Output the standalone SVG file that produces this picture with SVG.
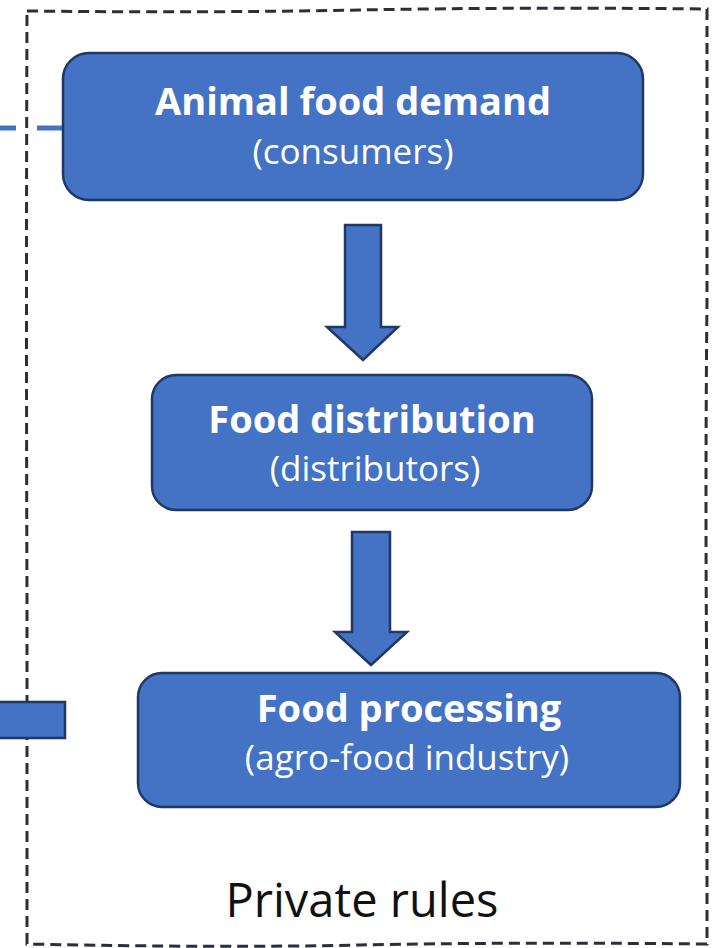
<svg xmlns="http://www.w3.org/2000/svg" width="714" height="948" viewBox="0 0 714 948">
<defs>
<style>
.box{fill:#4472C4;stroke:#1F3864;stroke-width:2.5}
.arrow{fill:#4472C4;stroke:#1F3864;stroke-width:2.5;stroke-linejoin:miter}
.title{font-family:"Open Sans","Noto Sans",sans-serif;font-weight:bold;font-size:38px;fill:#ffffff;text-anchor:middle}
.sub{font-family:"Open Sans","Noto Sans",sans-serif;font-size:35px;fill:#ffffff;text-anchor:middle}
.frame{fill:none;stroke:#2B2F3A;stroke-width:3;stroke-dasharray:11 6}
.label{font-family:"Open Sans","Noto Sans",sans-serif;font-size:47px;fill:#111111;text-anchor:middle}
</style>
</defs>
<rect width="714" height="948" fill="#ffffff"/>
<g id="private-rules-frame">
<path class="frame" d="M27 11 Q200 13 360 10 T707 9 L707 300 Q705 500 707 700 L707 944 Q500 942 360 945 T27 944 L27 600 Q26 300 27 11 Z"/>
<text class="label" x="362" y="917">Private rules</text>
</g>
<g id="connectors">
<path d="M0 128 L16 128 M37 128 L63 128" stroke="#4472C4" stroke-width="5" fill="none"/>
<rect x="-3" y="702" width="68" height="36" class="box"/>
<path class="arrow" d="M345 225 L381 225 L381 327 L398 327 L363 360 L327 327 L345 327 Z"/>
<path class="arrow" d="M352 532 L390 532 L390 632 L407 632 L371 665 L335 632 L352 632 Z"/>
</g>
<g id="node-demand">
<rect class="box" x="63" y="53" width="580" height="147" rx="26" ry="26"/>
<text class="title" x="353" y="115">Animal food demand</text>
<text class="sub" x="353" y="164">(consumers)</text>
</g>
<g id="node-distribution">
<rect class="box" x="152" y="375" width="440" height="135" rx="24" ry="24"/>
<text class="title" x="372" y="433">Food distribution</text>
<text class="sub" x="375" y="481">(distributors)</text>
</g>
<g id="node-processing">
<rect class="box" x="138" y="673" width="542" height="134" rx="24" ry="24"/>
<text class="title" x="409" y="722">Food processing</text>
<text class="sub" x="407" y="770">(agro-food industry)</text>
</g>
</svg>
